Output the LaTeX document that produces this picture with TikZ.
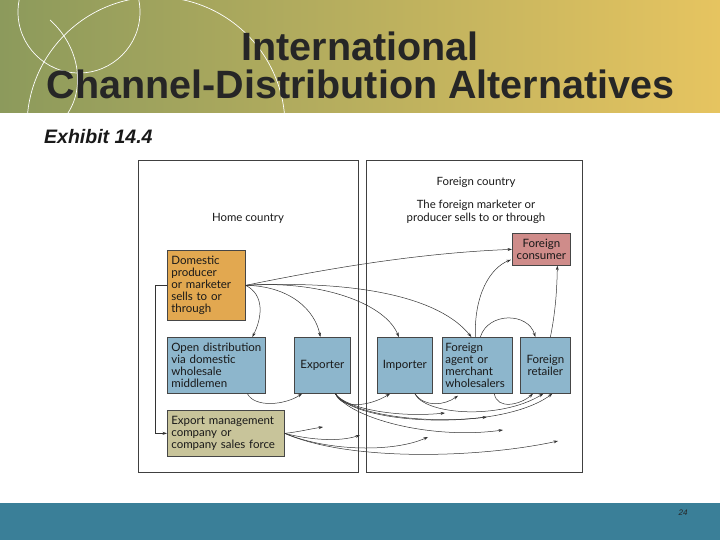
\documentclass[tikz,border=0pt]{standalone}
\usepackage{fontspec}
\setmainfont{Liberation Sans}
\newfontfamily\boxfont{Lato}
\usetikzlibrary{arrows.meta,calc}

\definecolor{hdrL}{RGB}{140,154,92}
\definecolor{hdrR}{RGB}{230,196,96}
\definecolor{footbar}{RGB}{58,127,152}
\definecolor{domc}{RGB}{226,168,80}
\definecolor{bluec}{RGB}{141,182,204}
\definecolor{khaki}{RGB}{200,196,154}
\definecolor{pinkc}{RGB}{207,140,138}
\definecolor{edgec}{RGB}{70,70,70}
\definecolor{titlec}{RGB}{38,38,38}

\begin{document}
\begin{tikzpicture}[x=1pt,y=-1pt,
  box/.style={draw=edgec, line width=0.7pt, anchor=north west, inner sep=4pt,
    font=\boxfont\fontsize{11.5}{12}\selectfont, text=black!90},
  lbl/.style={font=\boxfont\fontsize{11.4}{13}\selectfont, text=black!90, inner sep=0pt},
  arr/.style={-{Stealth[length=4.5pt,width=3pt]}, line width=0.5pt, draw=black!80},
  panel/.style={draw=black!75, line width=0.8pt},
  circ/.style={draw=white, line width=0.7pt}]

\useasboundingbox (0,0) rectangle (720,540);
\fill[white] (0,0) rectangle (720,540);

% header band
\shade[left color=hdrL, right color=hdrR] (0,0) rectangle (720,113);
\begin{scope}
  \clip (0,0) rectangle (720,113);
  \draw[circ] (79,12) circle[radius=61];
  \draw[circ] (156,126) circle[radius=129];
  \draw[circ] (50,20) .. controls (78,45) and (86,85) .. (68,113);
\end{scope}
\node[font=\bfseries\fontsize{39.5}{40}\selectfont, text=titlec, anchor=base, inner sep=0pt] (t1) at (360,61) {International};
\node[font=\bfseries\fontsize{39.5}{40}\selectfont, text=titlec, anchor=base, inner sep=0pt] (t2) at (360.5,99) {Channel-Distribution Alternatives};

% footer band
\fill[footbar] (0,503) rectangle (720,540);
\node[font=\itshape\fontsize{8}{8}\selectfont, text=black!85, inner sep=0pt] (pg) at (683,513) {24};

\node[font=\bfseries\itshape\fontsize{19.5}{19.5}\selectfont, text=black!90, anchor=base west, inner sep=0pt] (ex) at (44,144) {Exhibit 14.4};

% panels
\draw[panel] (138,160) rectangle (358,472);
\draw[panel] (366,160) rectangle (582,472);

\node[lbl] (home) at (248,218) {Home country};
\node[lbl] (fc) at (476,182) {Foreign country};
\node[lbl, align=center] (fm) at (476,212) {The foreign marketer or\\producer sells to or through};

% boxes
\node[box, fill=domc, minimum width=78pt, minimum height=70pt, text width=70pt, align=left] (dom) at (167,250)
  {Domestic\\producer\\or marketer\\sells to or\\through};
\node[box, fill=bluec, minimum width=98pt, minimum height=56pt, text width=90pt, align=left] (opn) at (167,337)
  {Open distribution\\via domestic\\wholesale\\middlemen};
\node[box, fill=bluec, minimum width=56pt, minimum height=56pt, align=center] (exp) at (294,337) {Exporter};
\node[box, fill=khaki, minimum width=117pt, minimum height=46pt, text width=109pt, align=left] (emc) at (167,410)
  {Export management\\company or\\company sales force};
\node[box, fill=bluec, minimum width=55pt, minimum height=56pt, align=center] (imp) at (377,337) {Importer};
\node[box, fill=bluec, minimum width=70pt, minimum height=56pt, text width=64pt, inner xsep=3pt, align=left] (agt) at (442,337)
  {Foreign\\agent or\\merchant\\wholesalers};
\node[box, fill=bluec, minimum width=50pt, minimum height=56pt, align=center] (ret) at (520,337) {Foreign\\retailer};
\node[box, fill=pinkc, minimum width=58pt, minimum height=32pt, align=center] (con) at (512,233) {Foreign\\consumer};

% free arrow ends
\coordinate (f1) at (445,413);
\coordinate (f2) at (487,417);
\coordinate (f3) at (503,430);
\coordinate (g1) at (323,427);
\coordinate (g2) at (360,435);
\coordinate (g3) at (428,437);
\coordinate (g4) at (558,441);

% arrows from domestic producer
\draw[arr] (dom.east) .. controls (330,268) and (420,253) .. (con.west);
\draw[arr] (dom.east) .. controls (265,295) and (262,318) .. ([xshift=36pt]opn.north);
\draw[arr] (dom.east) .. controls (290,286) and (315,310) .. ([xshift=-2pt]exp.north);
\draw[arr] (dom.east) .. controls (320,280) and (385,303) .. ([xshift=-6pt]imp.north);
\draw[arr] (dom.east) .. controls (360,280) and (440,298) .. ([xshift=-6pt]agt.north);
\draw[arr] (dom.west) -- ++(-12pt,0) |- (emc.west);

% foreign side, upper
\draw[arr] ([xshift=-2pt]agt.north) .. controls (474,295) and (490,268) .. ([xshift=-1pt,yshift=6pt]con.south west);
\draw[arr] ([xshift=3pt]agt.north) .. controls (488,312) and (528,312) .. ([xshift=-10pt]ret.north);
\draw[arr] ([xshift=5pt]ret.north) .. controls (556,310) and (557,285) .. ([xshift=16pt]con.south);

% lower connectors
\draw[arr] ([xshift=31pt]opn.south) .. controls (255,408) and (285,405) .. ([xshift=8pt]exp.south west);
\draw[arr] ([xshift=13pt]exp.south) .. controls (342,410) and (370,406) .. ([xshift=13pt]imp.south west);
\draw[arr] ([xshift=13pt]exp.south) .. controls (345,408) and (395,418) .. (f1);
\draw[arr] ([xshift=13pt]exp.south) .. controls (348,413) and (420,425) .. (f2);
\draw[arr] ([xshift=13pt]exp.south) .. controls (350,418) and (430,440) .. (f3);
\draw[arr] ([xshift=13pt]exp.south) .. controls (355,425) and (500,432) .. ([xshift=7pt]ret.south);
\draw[arr] ([xshift=10pt]imp.south) .. controls (425,408) and (445,405) .. ([xshift=16pt,yshift=-2pt]agt.south west);
\draw[arr] ([xshift=10pt]imp.south) .. controls (425,415) and (500,420) .. ([xshift=-2pt]ret.south);
\draw[arr] ([xshift=17pt]agt.south) .. controls (497,410) and (520,405) .. ([xshift=13pt]ret.south west);
\draw[arr] (emc.east) .. controls (298,432) and (310,429) .. (g1);
\draw[arr] (emc.east) .. controls (310,440) and (340,442) .. (g2);
\draw[arr] (emc.east) .. controls (330,452) and (395,452) .. (g3);
\draw[arr] (emc.east) .. controls (350,462) and (480,458) .. (g4);
\end{tikzpicture}
\end{document}
